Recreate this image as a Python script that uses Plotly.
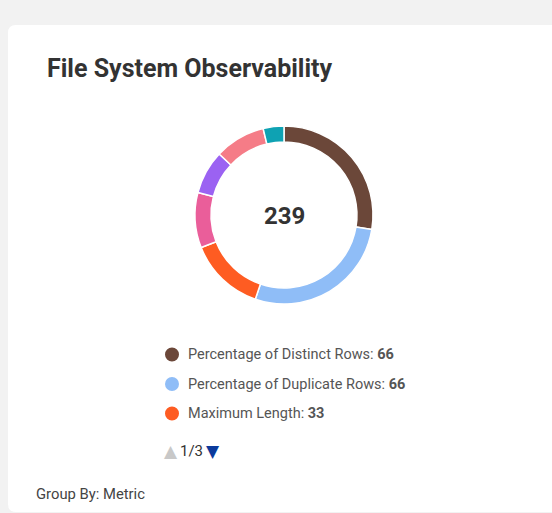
import plotly.graph_objects as go

# ---- data ----
labels = ["Percentage of Distinct Rows", "Percentage of Duplicate Rows", "Maximum Length",
          "Minimum Length", "Average Length", "Null Count", "Empty Count"]
values = [66, 66, 33, 24, 19, 22, 9]
colors = ["#6b4739", "#8fbdf7", "#fe5c22", "#ea5e9a", "#9b62f2", "#f57c87", "#0ea2b3"]
title_text = "File System Observability"
group_by_text = "Group By: Metric"
legend_page = "1/3"
legend_count = 3

W, H = 552, 513
total = sum(values)

def px(x):
    return x / W

def py(y):
    return 1 - y / H

fig = go.Figure()
cx, cy, r = 284, 215, 89
fig.add_trace(go.Pie(
    labels=labels, values=values, hole=0.82, sort=False, direction="clockwise",
    rotation=0, textinfo="none", hoverinfo="label+value",
    marker=dict(colors=colors, line=dict(color="white", width=1.5)),
    domain=dict(x=[px(cx - r), px(cx + r)], y=[py(cy + r), py(cy - r)]),
    showlegend=False,
))

shapes = []
# card background
x0, y0, x1, y1, rad = 8, 25, 570, 512, 8
path = (f"M {px(x0)},{py(y0+rad)} Q {px(x0)},{py(y0)} {px(x0+rad)},{py(y0)} "
        f"L {px(x1)},{py(y0)} L {px(x1)},{py(y1)} L {px(x0+rad)},{py(y1)} "
        f"Q {px(x0)},{py(y1)} {px(x0)},{py(y1-rad)} Z")
shapes.append(dict(type="path", path=path, xref="paper", yref="paper",
                   fillcolor="white", line=dict(width=0), layer="below"))

def ann(text, x, y, size, color, anchor="left", family="Roboto"):
    return dict(text=text, x=px(x), y=py(y), xref="paper", yref="paper",
                xanchor=anchor, yanchor="middle", showarrow=False,
                font=dict(family=family, size=size, color=color))

annotations = [
    ann(f"<b>{title_text}</b>", 45, 68, 25, "#333333"),
    ann(f"<b>{total}</b>", cx, cy + 1, 24, "#333333", "center"),
    ann(group_by_text, 34, 494, 14.8, "#444444"),
    ann("▲", 170.5, 451, 17, "#c8c8c8", "center", "DejaVu Sans"),
    ann(legend_page, 178, 451, 15, "#333333"),
    ann("▼", 213, 451, 17, "#0b3a9c", "center", "DejaVu Sans"),
]

ly0, lstep, dr = 354.5, 29.5, 7
for i in range(legend_count):
    yy = ly0 + i * lstep
    shapes.append(dict(type="circle", xref="paper", yref="paper",
                       x0=px(172 - dr), x1=px(172 + dr), y0=py(yy + dr), y1=py(yy - dr),
                       fillcolor=colors[i], line=dict(width=0)))
    annotations.append(ann(f"{labels[i]}: <b>{values[i]}</b>", 186, yy, 14.5, "#555555"))

fig.update_layout(
    width=W, height=H, margin=dict(l=0, r=0, t=0, b=0),
    paper_bgcolor="#f2f2f2", plot_bgcolor="#f2f2f2",
    shapes=shapes, annotations=annotations,
    xaxis=dict(visible=False), yaxis=dict(visible=False),
)
fig.write_html("out.html", config={"displayModeBar": False},
               post_script="document.body.style.margin='0';document.body.style.overflow='hidden';")
